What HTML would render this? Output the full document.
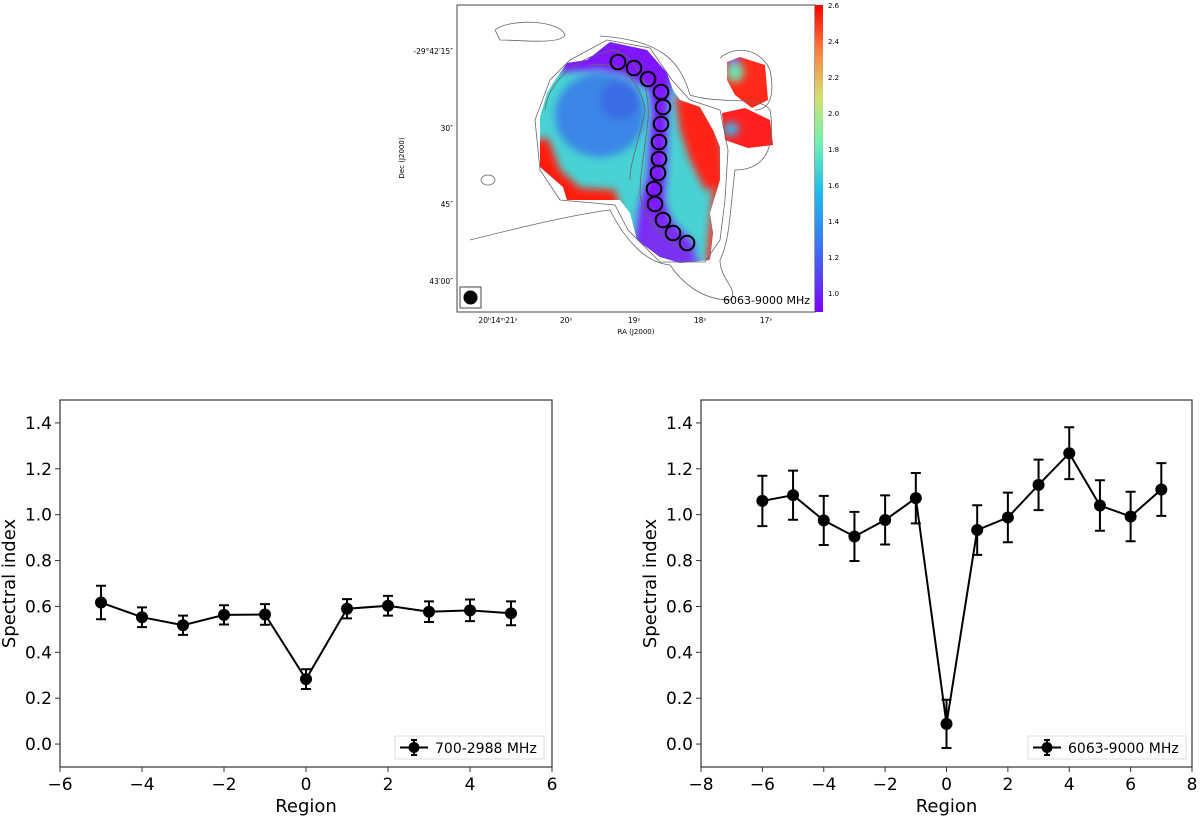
<!DOCTYPE html>
<html><head><meta charset="utf-8">
<style>
body{margin:0;background:#fff;width:1200px;height:817px;overflow:hidden;font-family:"Liberation Sans","DejaVu Sans",sans-serif}
svg{position:absolute;left:0;top:0}
</style></head>
<body>
<svg id="s" width="1200" height="817" viewBox="0 0 1200 817" xmlns="http://www.w3.org/2000/svg" font-family="DejaVu Sans, Liberation Sans, sans-serif">
<defs>
<clipPath id="blob"><path d="M610,42 L647,50 L667,73 L673,90 L680,100 L700,107 L713,130 L720,147 L720,180 L710,213 L713,233 L710,260 L680,263 L660,257 L637,240 L630,213 L620,200 L593,200 L567,200 L563,187 L540,167 L540,117 L547,93 L553,83 L567,63 L587,60 Z"/></clipPath>
<clipPath id="e1"><path d="M727,62 L740,57 L765,65 L768,100 L752,108 L735,95 L727,80 Z"/></clipPath>
<clipPath id="e2"><path d="M722,113 L745,108 L770,120 L773,145 L748,148 L725,140 Z"/></clipPath>
<filter id="bl" filterUnits="userSpaceOnUse" x="400" y="0" width="450" height="320"><feGaussianBlur stdDeviation="4"/></filter>
<linearGradient id="cb" x1="0" y1="1" x2="0" y2="0">
<stop offset="0" stop-color="#8000ff"/><stop offset="0.2" stop-color="#3d6ff5"/><stop offset="0.4" stop-color="#20c0e8"/><stop offset="0.55" stop-color="#70f0b0"/><stop offset="0.7" stop-color="#d0e070"/><stop offset="0.85" stop-color="#ff8040"/><stop offset="1" stop-color="#ff0000"/></linearGradient>
</defs>
<g>
<rect x="457" y="5" width="358" height="307" fill="#fff" stroke="#444"/>
<g clip-path="url(#blob)">
<rect x="530" y="35" width="200" height="235" fill="#48d2d4"/>
<g filter="url(#bl)">
<ellipse cx="600" cy="115" rx="45" ry="42" fill="#3a86e6"/>
<ellipse cx="620" cy="100" rx="20" ry="20" fill="#3a6ce6"/>
<path d="M532,140 L548,138 L560,170 L580,188 L615,190 L620,210 L560,210 L530,175 Z" fill="#ff1a10"/>
<path d="M675,95 L700,100 L720,130 L725,185 L705,190 L690,160 L680,130 Z" fill="#ff2418"/>
<path d="M713,185 L725,185 L722,265 L706,265 Z" fill="#ff3020"/>
<path d="M595,35 L672,45 L672,85 L668,100 L666,170 L664,200 L670,220 L695,245 L690,268 L650,265 L635,245 L640,205 L648,175 L652,110 L650,90 L625,75 L600,70 L560,72 L560,55 Z" fill="#7f14ff"/>
<path d="M648,205 L665,225 L690,245 L700,265 L640,265 Z" fill="#7a30f0"/>
</g>
</g>
<g clip-path="url(#e1)"><rect x="720" y="50" width="60" height="70" fill="#ff2a1a"/><g filter="url(#bl)"><ellipse cx="735" cy="72" rx="9" ry="10" fill="#70e0b0"/><rect x="727" y="55" width="12" height="8" fill="#7a20ff"/></g></g>
<g clip-path="url(#e2)"><rect x="715" y="100" width="65" height="55" fill="#ff2020"/><g filter="url(#bl)"><ellipse cx="731" cy="129" rx="8" ry="7" fill="#40b0e8"/></g></g>
<g fill="none" stroke="#666" stroke-width="0.8">
<path d="M607,40 L650,48 L672,80 L690,100 L720,110 L728,150 L725,200 L720,240 L705,262 L660,262 L628,230 L615,205 L560,200 L540,170 L535,120 L550,80 L570,60 Z"/>
<path d="M600,36 C660,40 680,60 690,95 C720,105 760,95 770,110 C775,140 770,170 735,170 C730,210 730,240 720,260 C720,280 740,290 730,300 C700,300 680,280 670,265 C640,262 620,230 610,210 C570,215 510,230 470,240"/>
<path d="M545,110 C548,80 580,55 615,50 C640,60 650,90 648,120 C645,150 640,170 640,195 C645,220 665,245 690,250"/>
<path d="M590,65 C620,60 640,80 645,110 C640,140 630,160 630,180"/>
<path d="M720,58 C735,45 760,48 770,70 C775,95 770,110 755,110"/>
<ellipse cx="488" cy="180" rx="7" ry="5"/>
<path d="M495,30 C510,18 560,20 565,35 C560,45 520,40 500,40 Z"/>
</g>
<g fill="none" stroke="#000" stroke-width="2">
<circle cx="618" cy="62" r="7.3"/><circle cx="634" cy="68" r="7.3"/><circle cx="648" cy="79" r="7.3"/><circle cx="661" cy="92" r="7.3"/><circle cx="663" cy="107" r="7.3"/><circle cx="661" cy="124" r="7.3"/><circle cx="659" cy="142" r="7.3"/><circle cx="659" cy="159" r="7.3"/><circle cx="658" cy="173" r="7.3"/><circle cx="654" cy="189" r="7.3"/><circle cx="655" cy="204" r="7.3"/><circle cx="663" cy="220" r="7.3"/><circle cx="673" cy="233" r="7.3"/><circle cx="687" cy="243" r="7.3"/>
</g>
<rect x="460" y="287" width="21" height="21" fill="#fff" stroke="#444"/>
<circle cx="470.5" cy="297.5" r="7" fill="#000"/>
<text x="810" y="304" font-size="11" text-anchor="end">6063-9000 MHz</text>
<rect x="815" y="5" width="8" height="307" fill="url(#cb)"/>
<g font-size="7">
<text x="828" y="8">2.6</text><text x="828" y="44">2.4</text><text x="828" y="80">2.2</text><text x="828" y="116">2.0</text><text x="828" y="152">1.8</text><text x="828" y="188">1.6</text><text x="828" y="224">1.4</text><text x="828" y="260">1.2</text><text x="828" y="296">1.0</text>
</g>
<g font-size="7.5" text-anchor="end">
<text x="453" y="54">-29°42′15″</text><text x="453" y="131">30″</text><text x="453" y="207">45″</text><text x="453" y="284">43′00″</text>
</g>
<g font-size="7.5" text-anchor="middle">
<text x="498" y="323">20ʰ14ᵐ21ˢ</text><text x="566" y="323">20ˢ</text><text x="634" y="323">19ˢ</text><text x="700" y="323">18ˢ</text><text x="766" y="323">17ˢ</text>
</g>
<text x="636" y="334" font-size="7" text-anchor="middle">RA (J2000)</text>
<text transform="translate(404,158) rotate(-90)" font-size="7" text-anchor="middle">Dec (J2000)</text>
</g>
<g id="c1"></g><g id="c2"></g>
</svg>
<script>
const leftRegions=[-5,-4,-3,-2,-1,0,1,2,3,4,5];
const leftValues=[0.617,0.553,0.518,0.563,0.565,0.283,0.590,0.603,0.577,0.583,0.570];
const leftErrors=[0.073,0.043,0.042,0.042,0.045,0.043,0.042,0.043,0.045,0.047,0.052];
const leftXTicks=[-6,-4,-2,0,2,4,6];
const rightRegions=[-6,-5,-4,-3,-2,-1,0,1,2,3,4,5,6,7];
const rightValues=[1.060,1.085,0.975,0.905,0.977,1.072,0.088,0.933,0.988,1.130,1.268,1.040,0.992,1.110];
const rightErrors=[0.110,0.107,0.107,0.107,0.107,0.110,0.105,0.108,0.108,0.110,0.113,0.110,0.108,0.115];
const rightXTicks=[-8,-6,-4,-2,0,2,4,6,8];
const yTicks=[0.0,0.2,0.4,0.6,0.8,1.0,1.2,1.4];
const NS='http://www.w3.org/2000/svg';
function mk(tag,attrs,parent,txt){const e=document.createElementNS(NS,tag);for(const k in attrs)e.setAttribute(k,attrs[k]);if(txt!==undefined)e.textContent=txt;parent.appendChild(e);return e;}
function draw(g,x0,x1,xmin,xmax,xs,ys,es,xt,label,lx0,lx1){
 const y0=767,y1=400,ymin=-0.1,ymax=1.5;
 const X=v=>x0+(v-xmin)/(xmax-xmin)*(x1-x0);
 const Y=v=>y0-(v-ymin)/(ymax-ymin)*(y0-y1);
 const fr=mk('rect',{x:x0,y:y1,width:x1-x0,height:y0-y1,fill:'#fff',stroke:'#333','stroke-width':1.2},g);
 
 
 xt.forEach(t=>{mk('line',{x1:X(t),x2:X(t),y1:y0,y2:y0+5,stroke:'#333'},g);
  const tx=mk('text',{x:X(t),y:y0+23,'font-size':17,'text-anchor':'middle'},g,(t<0?'\u2212':'')+Math.abs(t));
  
  });
 yTicks.forEach(t=>{mk('line',{x1:x0-5,x2:x0,y1:Y(t),y2:Y(t),stroke:'#333'},g);
  const tx=mk('text',{x:x0-8,y:Y(t)+6,'font-size':17,'text-anchor':'end'},g,t.toFixed(1));
  
  });
 const xl=mk('text',{x:(x0+x1)/2,y:y0+45,'font-size':18,'text-anchor':'middle'},g,'Region');
 
 
 const yl=mk('text',{transform:`translate(${x0-45},${(y0+y1)/2}) rotate(-90)`,'font-size':18,'text-anchor':'middle'},g,'Spectral index');
 
 
 const pl=mk('polyline',{points:xs.map((v,i)=>X(v)+','+Y(ys[i])).join(' '),fill:'none',stroke:'#000','stroke-width':2},g);
 
 
 xs.forEach((v,i)=>{const cx=X(v),a=Y(ys[i]+es[i]),b=Y(ys[i]-es[i]);
  const eb=mk('path',{d:`M${cx},${a}V${b}M${cx-5},${a}H${cx+5}M${cx-5},${b}H${cx+5}`,stroke:'#000','stroke-width':2,fill:'none'},g);
  
  
  const c=mk('circle',{cx:cx,cy:Y(ys[i]),r:6,fill:'#000'},g);
  
  });
 const lg=mk('g',{},g);
 
 
 mk('rect',{x:lx0,y:736,width:lx1-lx0,height:23,fill:'#fff',stroke:'#ddd'},lg);
 mk('path',{d:`M${lx0+5},747.5H${lx0+33}M${lx0+19},740V755M${lx0+16},740H${lx0+22}M${lx0+16},755H${lx0+22}`,stroke:'#000','stroke-width':2},lg);
 mk('circle',{cx:lx0+19,cy:747.5,r:5.5,fill:'#000'},lg);
 mk('text',{x:lx0+40,y:753,'font-size':14},lg,label);
}
draw(document.getElementById('c1'),60,552,-6,6,leftRegions,leftValues,leftErrors,leftXTicks,'700-2988 MHz',395,544);
draw(document.getElementById('c2'),701,1192,-8,8,rightRegions,rightValues,rightErrors,rightXTicks,'6063-9000 MHz',1028,1186);
</script>
</body></html>
